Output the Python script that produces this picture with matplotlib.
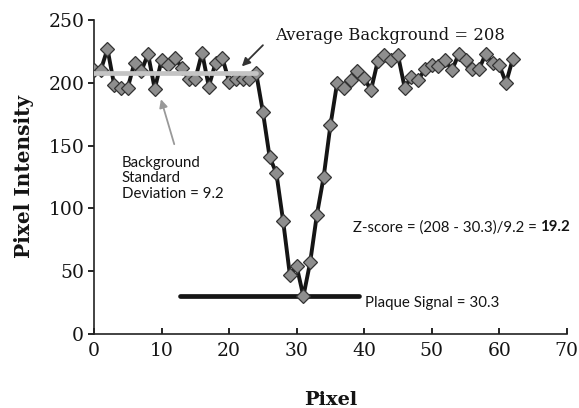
import matplotlib
matplotlib.use("Agg")
import matplotlib.pyplot as plt

pixel = list(range(63))
intensity = [210, 210, 227, 198, 196, 196, 216, 209, 223, 195,
             218, 214, 220, 212, 203, 203, 224, 197, 216, 220,
             201, 203, 203, 203, 208, 177, 141, 128, 90, 47,
             54, 30, 57, 95, 125, 166, 200, 196, 202, 209,
             204, 194, 217, 222, 218, 222, 196, 205, 202, 211,
             214, 213, 218, 210, 223, 218, 211, 211, 223, 216,
             214, 200, 219]

avg_bg = 208
bg_range = [0, 24]
plaque = 30.3
plaque_range = [12.7, 39.3]

xticks = [0, 10, 20, 30, 40, 50, 60, 70]
yticks = [0, 50, 100, 150, 200, 250]

serif = "DejaVu Serif"
sans = "Lato"
ink = "#141414"

fig = plt.figure(figsize=(5.79, 4.08), dpi=100)
ax = fig.add_axes([0.1623, 0.1814, 0.8167, 0.7696])

ax.plot(bg_range, [avg_bg, avg_bg], color="#c4c4c4", lw=3.4, zorder=4, solid_capstyle="round")
ax.plot(pixel, intensity, color="#151515", lw=2.8, marker="D", markersize=7,
        markerfacecolor="#8e8e8e", markeredgecolor="#333333", markeredgewidth=0.9, zorder=3)
ax.plot(plaque_range, [plaque, plaque], color="#151515", lw=3.4, zorder=2, solid_capstyle="round")

ax.set_xlim(0, 70)
ax.set_ylim(0, 250)
ax.set_xticks(xticks)
ax.set_yticks(yticks)
for s in ["top", "right"]:
    ax.spines[s].set_visible(False)
for s in ["left", "bottom"]:
    ax.spines[s].set_linewidth(1.2)
    ax.spines[s].set_color("#222222")
ax.tick_params(axis="x", direction="in", length=4, width=1.2, pad=6)
ax.tick_params(axis="y", direction="out", length=4, width=1.2, pad=3)
for lab in ax.get_xticklabels() + ax.get_yticklabels():
    lab.set_fontfamily(serif)
    lab.set_fontsize(13.5)
    lab.set_color(ink)

ax.set_xlabel("Pixel", fontfamily=serif, fontweight="bold", fontsize=14, labelpad=22, color=ink)
ax.set_ylabel("Pixel Intensity", fontfamily=serif, fontweight="bold", fontsize=14.5, labelpad=10, color=ink)

ax.annotate("", xy=(21.6, 211.5), xytext=(25.3, 231.5),
            arrowprops=dict(arrowstyle="-|>", color="#333333", lw=1.3, mutation_scale=12), zorder=6)
ax.text(26.8, 238, "Average Background = 208", fontfamily=serif, fontsize=11.8,
        va="center", ha="left", color=ink)

ax.annotate("", xy=(9.8, 189), xytext=(12.0, 149),
            arrowprops=dict(arrowstyle="-|>", color="#999999", lw=1.3, mutation_scale=12), zorder=6)
ax.text(4.1, 142, "Background\nStandard\nDeviation = 9.2", fontfamily=sans, fontsize=10.8,
        va="top", ha="left", linespacing=1.15, color=ink)

t = ax.text(38.3, 85, "Z-score = (208 - 30.3)/9.2 = ", fontfamily=sans, fontsize=10.8,
            va="center", ha="left", color=ink)
ax.annotate("19.2", xy=(1, 0), xycoords=t, va="bottom", ha="left",
            fontfamily=sans, fontsize=10.8, fontweight="bold", color=ink)

ax.text(40.1, 25, "Plaque Signal = 30.3", fontfamily=sans, fontsize=10.8,
        va="center", ha="left", color=ink)

fig.savefig("out.png", dpi=100)
